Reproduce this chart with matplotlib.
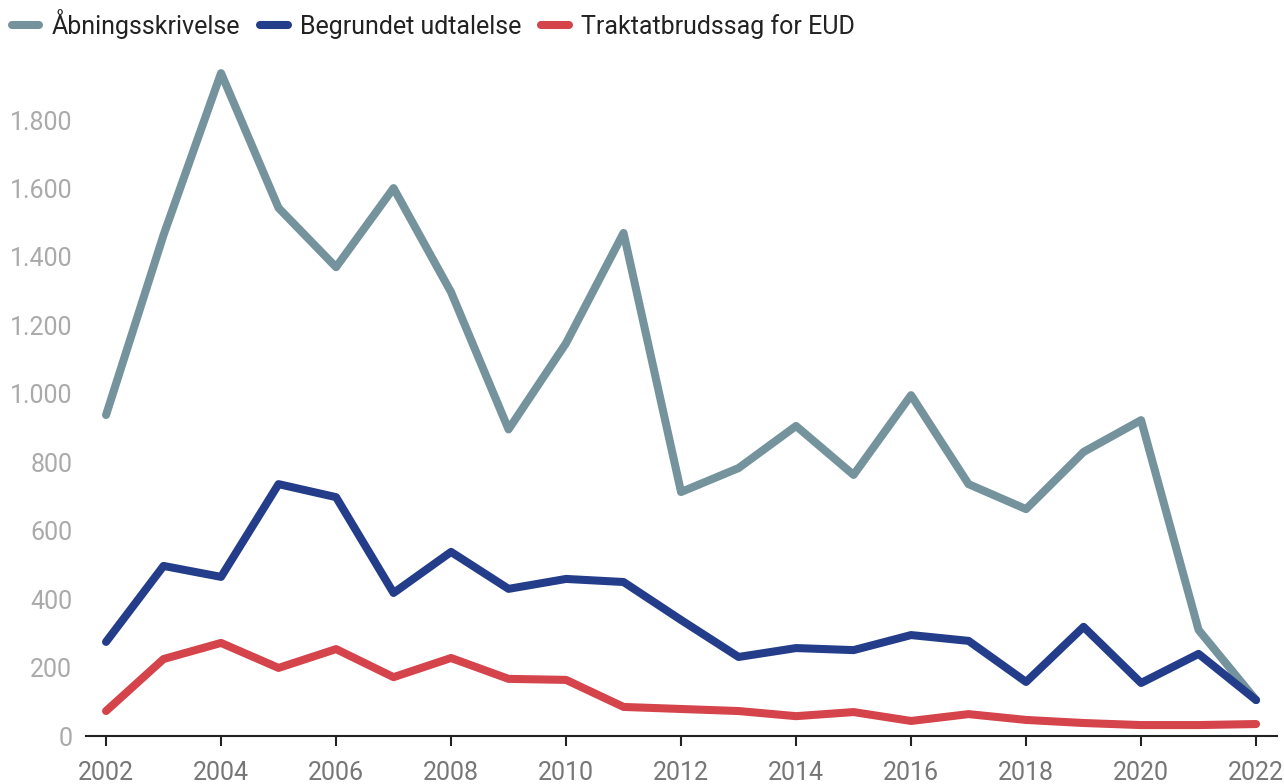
import numpy as np
import matplotlib.pyplot as plt
from matplotlib.ticker import FuncFormatter

years = list(range(2002, 2023))

aabning = [938, 1464, 1937, 1543, 1370, 1601, 1297, 896, 1148, 1470, 713,
           783, 906, 763, 996, 736, 663, 830, 923, 310, 105]
begrundet = [275, 497, 465, 736, 698, 418, 538, 430, 459, 450, 339,
             231, 257, 251, 295, 278, 158, 319, 155, 240, 105]
traktat = [73, 225, 272, 199, 254, 172, 228, 167, 164, 85, 79,
           73, 58, 70, 44, 64, 47, 38, 32, 32, 35]

labels = ["Åbningsskrivelse", "Begrundet udtalelse", "Traktatbrudssag for EUD"]
colors = ["#74939c", "#233d8a", "#d5434b"]

plt.rcParams["font.family"] = ["Roboto", "DejaVu Sans"]
plt.rcParams["font.size"] = 18

fig = plt.figure(figsize=(12.84, 7.84), dpi=100)
ax = fig.add_axes([0.067, 0.0612, 0.9276, 0.8512])

for series, lab, col in zip([aabning, begrundet, traktat], labels, colors):
    ax.plot(years, series, color=col, lw=5.8, label=lab,
            solid_capstyle="round", solid_joinstyle="round")

ax.set_xlim(2001.652, 2022.365)
ax.set_ylim(0, 1950)
ax.set_xticks(range(2002, 2023, 2))
ax.set_yticks(range(0, 1801, 200))
ax.yaxis.set_major_formatter(FuncFormatter(lambda v, p: f"{int(v):,}".replace(",", ".")))

for s in ["top", "right", "left"]:
    ax.spines[s].set_visible(False)
ax.spines["bottom"].set_color("#222222")
ax.spines["bottom"].set_linewidth(1.5)
ax.tick_params(axis="y", length=0, pad=10, labelcolor="#aaaaaa", labelsize=18)
ax.tick_params(axis="x", length=7, width=1.5, color="#222222", pad=11,
               labelcolor="#777777", labelsize=18)

fig.legend(loc="upper left", bbox_to_anchor=(-0.0085, 1.017), ncol=3, frameon=False,
           handlelength=1.1, handletextpad=0.5, columnspacing=0.8, fontsize=18,
           labelcolor="#222222")

plt.savefig("out.png", dpi=100)
